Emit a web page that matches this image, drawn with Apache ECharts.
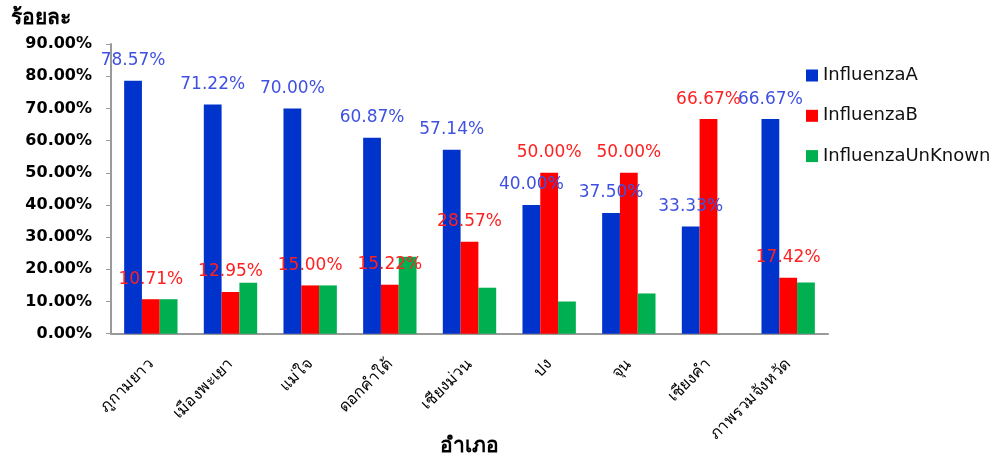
<!DOCTYPE html>
<html>
<head>
<meta charset="utf-8">
<script src="https://cdn.jsdelivr.net/npm/echarts@6/dist/echarts.min.js"></script>
<style>
html,body{margin:0;padding:0;background:#fff;}
#c{width:994px;height:457px;}
</style>
</head>
<body>
<div id="c"></div>
<script>
const categories = ['ภูกามยาว','เมืองพะเยา','แม่ใจ','ดอกคำใต้','เชียงม่วน','ปง','จุน','เชียงคำ','ภาพรวมจังหวัด'];
const influenzaA = [78.57, 71.22, 70.00, 60.87, 57.14, 40.00, 37.50, 33.33, 66.67];
const influenzaB = [10.71, 12.95, 15.00, 15.22, 28.57, 50.00, 50.00, 66.67, 17.42];
const influenzaUnknown = [10.71, 15.83, 15.00, 23.91, 14.29, 10.00, 12.50, 0, 15.91];
const yTicks = [0, 10, 20, 30, 40, 50, 60, 70, 80, 90];

const fmt = v => v.toFixed(2) + '%';
const chart = echarts.init(document.getElementById('c'), null, {renderer: 'canvas'});
const lblFont = 'DejaVu Sans, Tahoma, sans-serif';
chart.setOption({
  animation: false,
  backgroundColor: '#fff',
  title: {
    text: 'ร้อยละ', left: 11, top: 8, padding: 0,
    textStyle: {fontSize: 21, fontWeight: 'bold', color: '#000'}
  },
  legend: {
    orient: 'vertical', left: 806, top: 65.5, padding: 0,
    itemWidth: 12, itemHeight: 12, itemGap: 20.3,
    icon: 'rect',
    textStyle: {fontSize: 18, color: '#111', fontFamily: lblFont, lineHeight: 20},
    data: ['InfluenzaA','InfluenzaB','InfluenzaUnKnown']
  },
  grid: {left: 111, right: 166, top: 44, bottom: 123.3, containLabel: false, outerBoundsMode: 'none'},
  xAxis: {
    type: 'category', data: categories,
    name: 'อำเภอ', nameLocation: 'middle', nameGap: 102, nameMoveOverlap: false,
    nameTextStyle: {fontSize: 21, fontWeight: 'bold', color: '#000'},
    axisLine: {lineStyle: {color: '#999', width: 2}},
    axisTick: {show: false},
    axisLabel: {rotate: 45, margin: 28, fontSize: 16, color: '#000', interval: 0}
  },
  yAxis: {
    type: 'value', min: yTicks[0], max: yTicks[yTicks.length-1], interval: 10,
    splitLine: {show: false},
    axisLine: {show: true, lineStyle: {color: '#999', width: 2}},
    axisTick: {show: true, length: 5, lineStyle: {color: '#999', width: 1}},
    axisLabel: {margin: 19, fontSize: 16, fontWeight: 'bold', color: '#000', fontFamily: lblFont,
      formatter: v => fmt(v)}
  },
  series: [
    {name: 'InfluenzaA', type: 'bar', data: influenzaA, barGap: '0%', barCategoryGap: '33%',
      itemStyle: {color: '#0033CC'},
      label: {show: true, position: 'top', distance: 11, formatter: p => fmt(p.value),
        fontSize: 17, color: '#3F51E0', fontFamily: lblFont, lineHeight: 18}},
    {name: 'InfluenzaB', type: 'bar', data: influenzaB, barGap: '0%', barCategoryGap: '33%',
      itemStyle: {color: '#FF0000'},
      label: {show: true, position: 'top', distance: 11, formatter: p => fmt(p.value),
        fontSize: 17, color: '#FF2020', fontFamily: lblFont, lineHeight: 18}},
    {name: 'InfluenzaUnKnown', type: 'bar', data: influenzaUnknown, barGap: '0%', barCategoryGap: '33%',
      itemStyle: {color: '#00B050'}}
  ]
});
</script>
</body>
</html>
